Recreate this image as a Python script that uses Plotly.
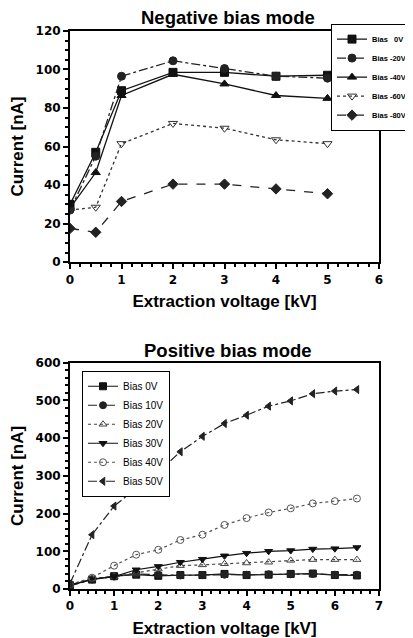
import plotly.graph_objects as go

# ---- Negative bias mode data ----
neg_x = [0, 0.5, 1, 2, 3, 4, 5]
neg_0v = [30, 57, 89, 98.5, 98.5, 96.5, 97]
neg_20v = [27, 55, 96.5, 104.5, 100.5, 96.5, 95.5]
neg_40v = [28, 46.5, 86.5, 97.5, 92.5, 86.5, 85]
neg_60v = [27, 28.5, 61.5, 72, 69.5, 63.5, 61.5]
neg_80v = [17.5, 15.5, 31.5, 40.5, 40.5, 38, 35.5]
neg_names = ["Bias   0V", "Bias -20V", "Bias -40V", "Bias -60V", "Bias -80V"]

# ---- Positive bias mode data ----
pos_x = [0, 0.5, 1, 1.5, 2, 2.5, 3, 3.5, 4, 4.5, 5, 5.5, 6, 6.5]
pos_0v = [10, 25, 34, 38, 35, 37, 37, 40, 37, 38, 40, 41, 37, 36]
pos_10v = [8, 25, 33, 40, 38, 36, 37, 38, 38, 39, 39, 40, 38, 38]
pos_20v = [12, 28, 33, 42, 53, 62, 64, 67, 69, 71, 76, 78, 78, 78]
pos_30v = [10, 26, 33, 51, 60, 71, 79, 88, 95, 100, 102, 106, 107, 110]
pos_40v = [12, 30, 62, 91, 104, 130, 144, 170, 188, 203, 214, 227, 233, 240]
pos_50v = [15, 144, 220, 267, 310, 364, 405, 439, 461, 485, 499, 518, 525, 529]
pos_names = ["Bias 0V", "Bias 10V", "Bias 20V", "Bias 30V", "Bias 40V", "Bias 50V"]

fig = go.Figure()

neg_series = [neg_0v, neg_20v, neg_40v, neg_60v, neg_80v]
neg_style = [
    ("solid", "square", "#111"),
    ("dashdot", "circle", "#222"),
    ("solid", "triangle-up", "#111"),
    ("dot", "triangle-down-open", "#333"),
    ("dash", "diamond", "#222"),
]
for name, ys, (dash, sym, col) in zip(neg_names, neg_series, neg_style):
    fig.add_trace(go.Scatter(
        x=neg_x, y=ys, name=name, mode="lines+markers",
        line=dict(color=col, width=1.3, dash=dash),
        marker=dict(symbol=sym, size=8, color=col, line=dict(color=col, width=1)),
        xaxis="x", yaxis="y", legend="legend",
    ))

pos_series = [pos_0v, pos_10v, pos_20v, pos_30v, pos_40v, pos_50v]
pos_style = [
    ("solid", "square", "#111"),
    ("dashdot", "circle", "#222"),
    ("dot", "triangle-up-open", "#444"),
    ("solid", "triangle-down", "#111"),
    ("dot", "circle-open", "#555"),
    ("dashdot", "triangle-left", "#222"),
]
for name, ys, (dash, sym, col) in zip(pos_names, pos_series, pos_style):
    fig.add_trace(go.Scatter(
        x=pos_x, y=ys, name=name, mode="lines+markers",
        line=dict(color=col, width=1.2, dash=dash),
        marker=dict(symbol=sym, size=7, color=col, line=dict(color=col, width=1)),
        xaxis="x2", yaxis="y2", legend="legend2",
    ))

font_t = "DejaVu Sans"
font_b = "Liberation Sans"
axis_common = dict(
    showline=True, linecolor="black", linewidth=2, mirror=True,
    ticks="outside", tickcolor="black", tickwidth=2, ticklen=5,
    showgrid=False, zeroline=False,
    tickfont=dict(family=font_t, size=12, color="black", weight="bold"),
    minor=dict(ticks="outside", ticklen=3, tickcolor="black", tickwidth=1.5),
)
title_font = dict(family=font_b, size=17, color="black", weight="bold")

# page body has an 8px margin, so the figure is 8px smaller than the window
W, H = 405, 630
L, T, R, B = 62, 0, 34, 49
PW = W - L - R
SHIFT = 5  # observed automatic top expansion of the plotting area
PH = H - T - B - SHIFT


def py(fig_px):
    """figure pixel row -> paper fraction"""
    return (H - B - fig_px) / PH


def px(fig_px):
    return (fig_px - L) / PW


top_dom = [py(253), min(1.0, py(21))]
bot_dom = [0, py(354)]

fig.update_layout(
    width=W, height=H,
    margin=dict(l=L, r=R, t=T, b=B),
    paper_bgcolor="white", plot_bgcolor="white",
    showlegend=True,
    xaxis=dict(domain=[0, 1], range=[0, 6], dtick=1, anchor="y",
               title=dict(text="Extraction voltage [kV]", font=title_font, standoff=10),
               **axis_common),
    yaxis=dict(domain=top_dom, range=[0, 120], dtick=20, anchor="x",
               title=dict(text="Current [nA]", font=title_font, standoff=8),
               **axis_common),
    xaxis2=dict(domain=[0, 1], range=[0, 7], dtick=1, anchor="y2",
                title=dict(text="Extraction voltage [kV]", font=title_font, standoff=10),
                **axis_common),
    yaxis2=dict(domain=bot_dom, range=[0, 600], dtick=100, anchor="x2",
                title=dict(text="Current [nA]", font=title_font, standoff=8),
                **axis_common),
    legend=dict(x=px(404), y=min(0.985, py(10)),
                xanchor="right", yanchor="top",
                bgcolor="white", bordercolor="black", borderwidth=1,
                font=dict(family=font_b, size=7.5, color="black", weight="bold"),
                itemwidth=30, tracegroupgap=0),
    legend2=dict(x=px(74), y=py(362),
                 xanchor="left", yanchor="top",
                 bgcolor="white", bordercolor="black", borderwidth=1,
                 font=dict(family=font_b, size=10, color="black"),
                 itemwidth=30, tracegroupgap=0),
    annotations=[
        dict(text="Negative bias mode", x=0.511, y=top_dom[1], xref="paper", yref="paper",
             xanchor="center", yanchor="bottom", yshift=1, showarrow=False,
             font=dict(family=font_b, size=18.5, color="black", weight="bold")),
        dict(text="Positive bias mode", x=0.51, y=bot_dom[1], xref="paper", yref="paper",
             xanchor="center", yanchor="bottom", yshift=0, showarrow=False,
             font=dict(family=font_b, size=18.5, color="black", weight="bold")),
    ],
)

fig.write_html("out.html")
